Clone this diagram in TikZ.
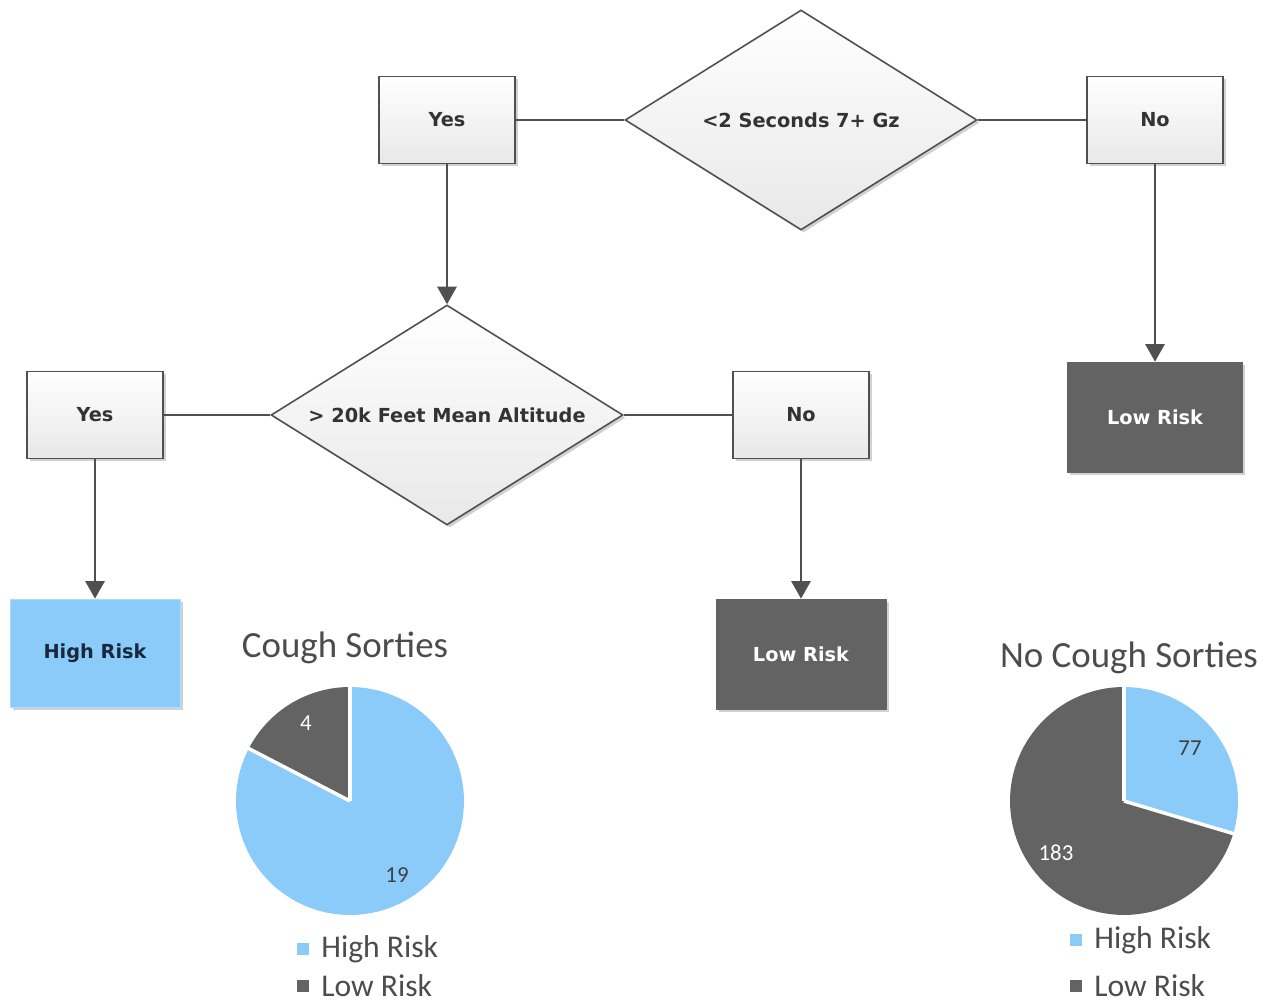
\documentclass[tikz,border=0pt]{standalone}
\usepackage{fontspec}
\setmainfont{Carlito}
\newfontfamily\boxfont{DejaVu Sans}
\usetikzlibrary{shapes.geometric,arrows.meta,shadows}

\definecolor{riskblue}{RGB}{139,203,250}
\definecolor{riskgray}{RGB}{99,99,99}
\definecolor{linegray}{RGB}{80,80,80}
\definecolor{navytext}{RGB}{25,40,62}

\tikzset{
  boxshadow/.style={drop shadow={shadow xshift=1.5pt,shadow yshift=-1.5pt,opacity=0.18,fill=black}},
  boxtext/.style={font=\boxfont\bfseries\fontsize{11}{13}\selectfont,text=black!80},
  answer/.style={rectangle,draw=linegray,line width=0.9pt,top color=white,bottom color=black!9,
    minimum width=2.72cm,minimum height=1.74cm,boxtext,boxshadow},
  question/.style={diamond,draw=linegray,line width=0.9pt,top color=white,bottom color=black!9,
    minimum width=7.04cm,minimum height=4.4cm,inner sep=0pt,boxshadow},
  highbox/.style={rectangle,fill=riskblue,draw=riskblue!70!white,minimum width=3.4cm,minimum height=2.16cm,
    boxtext,text=navytext,boxshadow},
  lowbox/.style={rectangle,fill=riskgray,draw=riskgray,minimum width=3.4cm,minimum height=2.2cm,
    boxtext,text=white,boxshadow},
  link/.style={draw=linegray,line width=1.1pt},
  arrow/.style={link,-{Triangle[width=11pt,length=10pt]}},
  slice/.style={draw=white,line width=2pt,line join=miter},
  charttitle/.style={font=\fontsize{21}{24}\selectfont,text=black!70},
  slicelabel/.style={font=\fontsize{13}{15}\selectfont},
  legendtext/.style={font=\fontsize{18}{21}\selectfont,text=black!70,anchor=west,inner sep=0pt},
  legendkey/.style={rectangle,minimum size=0.24cm,inner sep=0pt}
}

\begin{document}
\begin{tikzpicture}[x=0.02cm,y=0.02cm]
\useasboundingbox (0,0) rectangle (1263,1005);

\node[question,label={[boxtext]center:<2 Seconds 7+ Gz}] (q1) at (801,885) {};
\node[answer] (yes1) at (447,885) {Yes};
\node[answer] (no1) at (1155,885) {No};
\node[lowbox,minimum width=3.5cm] (low1) at (1155,588) {Low Risk};

\node[question,label={[boxtext]center:> 20k Feet Mean Altitude}] (q2) at (447,590) {};
\node[answer] (yes2) at (95,590) {Yes};
\node[answer] (no2) at (801,590) {No};
\node[highbox] (high) at (95,352) {High Risk};
\node[lowbox] (low2) at (801,351) {Low Risk};

\draw[link] (yes1) -- (q1);
\draw[link] (q1) -- (no1);
\draw[arrow] (yes1) -- (q2);
\draw[arrow] (no1) -- (low1);
\draw[link] (yes2) -- (q2);
\draw[link] (q2) -- (no2);
\draw[arrow] (yes2) -- (high);
\draw[arrow] (no2) -- (low2);

\coordinate (cough) at (350,204);
\fill[riskblue] (cough) -- ++(152.6:114) arc[start angle=152.6,end angle=450,radius=2.28cm] -- cycle;
\fill[riskgray] (cough) -- ++(90:114) arc[start angle=90,end angle=152.6,radius=2.28cm] -- cycle;
\draw[slice] (cough) -- ++(90:115);
\draw[slice] (cough) -- ++(152.6:115);
\node[charttitle] (cougheader) at (345,357) {Cough Sorties};
\node[slicelabel,text=white] (cough4) at (306,282) {4};
\node[slicelabel,text=black!75] (cough19) at (397,130) {19};
\node[legendkey,fill=riskblue] (coughkeyhigh) at (303,56) {};
\node[legendtext] (coughhigh) at (321,56) {High Risk};
\node[legendkey,fill=riskgray] (coughkeylow) at (303,19) {};
\node[legendtext] (coughlow) at (321,19) {Low Risk};

\coordinate (nocough) at (1124,204);
\fill[riskblue] (nocough) -- ++(-16.6:114) arc[start angle=-16.6,end angle=90,radius=2.28cm] -- cycle;
\fill[riskgray] (nocough) -- ++(90:114) arc[start angle=90,end angle=343.4,radius=2.28cm] -- cycle;
\draw[slice] (nocough) -- ++(90:115);
\draw[slice] (nocough) -- ++(-16.6:115);
\node[charttitle] (nocougheader) at (1129,347) {No Cough Sorties};
\node[slicelabel,text=black!75] (nocough77) at (1190,257) {77};
\node[slicelabel,text=white] (nocough183) at (1056,152) {183};
\node[legendkey,fill=riskblue] (nocoughkeyhigh) at (1076,65) {};
\node[legendtext] (nocoughhigh) at (1094,65) {High Risk};
\node[legendkey,fill=riskgray] (nocoughkeylow) at (1076,19) {};
\node[legendtext] (nocoughlow) at (1094,19) {Low Risk};
\end{tikzpicture}
\end{document}
